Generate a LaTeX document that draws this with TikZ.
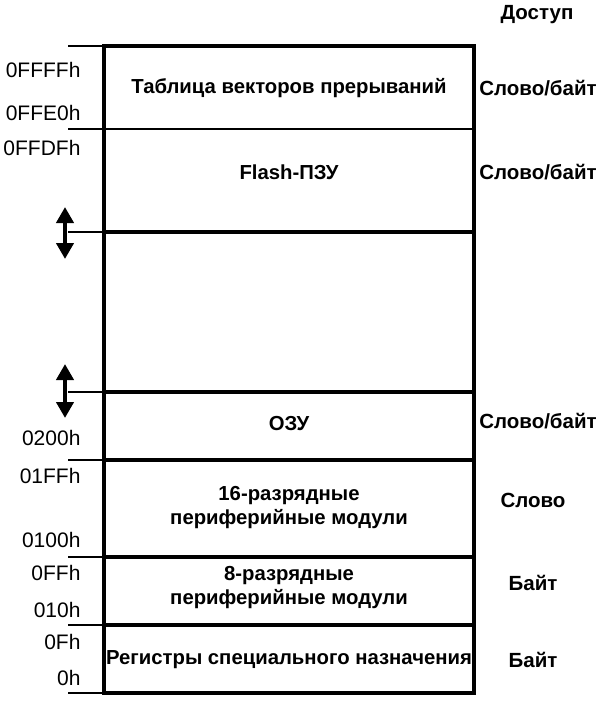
\documentclass[tikz,border=0pt]{standalone}
\usepackage{fontspec}
\setmainfont{Liberation Sans}
\usetikzlibrary{arrows.meta}
\begin{document}
\begin{tikzpicture}[x=1pt,y=-1pt,
  seg/.style={font=\fontsize{20.3}{24}\selectfont\bfseries,align=center},
  acc/.style={font=\fontsize{20.5}{24}\selectfont\bfseries},
  addr/.style={font=\fontsize{21}{24}\selectfont,anchor=east},
  tick/.style={line width=1.2pt},
  thin/.style={line width=2pt},
  thick/.style={line width=3.2pt},
  dbl/.style={line width=4pt,{Triangle[width=17pt,length=16pt]}-{Triangle[width=17pt,length=16pt]}}]
\useasboundingbox (0,0) rectangle (600,705);
% row boundaries
\foreach \n/\y in {a/46,b/129,c/232,d/392,e/460,f/557,g/625,h/693}{
  \coordinate (L\n) at (104,\y);
  \coordinate (R\n) at (474,\y);
  \coordinate (T\n) at (68,\y);
}
\draw[tick] (Ta) -- (La);
\draw[tick] (Tb) -- (Lb);
\draw[tick] (Tc) -- (Lc);
\draw[tick] (Td) -- (Ld);
\draw[tick] (Te) -- (Le);
\draw[tick] (Tf) -- (Lf);
\draw[tick] (Tg) -- (Lg);
\draw[tick] (Th) -- (Lh);
\draw[thin] (Lb) -- (Rb);
\draw[thick] (Lc) -- (Rc);
\draw[thick] (Ld) -- (Rd);
\draw[thick] (Le) -- (Re);
\draw[thick] (Lf) -- (Rf);
\draw[thick] (Lg) -- (Rg);
\draw[thick,line join=miter] (La) rectangle (Rh);
% arrows
\coordinate (a1t) at (65,207);
\coordinate (a1b) at (65,259);
\coordinate (a2t) at (65,364);
\coordinate (a2b) at (65,418);
\draw[dbl] (a1t) -- (a1b);
\draw[dbl] (a2t) -- (a2b);
% segment texts
\node[seg] (s1) at (289,88) {Таблица векторов прерываний};
\node[seg] (s2) at (289,172) {Flash-ПЗУ};
\node[seg] (s3) at (289,424) {ОЗУ};
\node[seg] (s4) at (289,508) {16-разрядные\\периферийные модули};
\node[seg] (s5) at (289,588) {8-разрядные\\периферийные модули};
\node[seg] (s6) at (289,660) {Регистры специального назначения};
% access
\node[acc] (h0) at (537,15) {Доступ};
\node[acc] (c1) at (538,88) {Слово/байт};
\node[acc] (c2) at (538,172) {Слово/байт};
\node[acc] (c3) at (538,421) {Слово/байт};
\node[acc] (c4) at (533,500) {Слово};
\node[acc] (c5) at (533,583) {Байт};
\node[acc] (c6) at (533,660) {Байт};
% addresses
\node[addr] (d1) at (84,70) {0FFFFh};
\node[addr] (d2) at (84,113) {0FFE0h};
\node[addr] (d3) at (84,148) {0FFDFh};
\node[addr] (d4) at (84,438) {0200h};
\node[addr] (d5) at (84,476) {01FFh};
\node[addr] (d6) at (84,540) {0100h};
\node[addr] (d7) at (84,573) {0FFh};
\node[addr] (d8) at (84,610) {010h};
\node[addr] (d9) at (84,642) {0Fh};
\node[addr] (d10) at (84,678) {0h};
\end{tikzpicture}
\end{document}
